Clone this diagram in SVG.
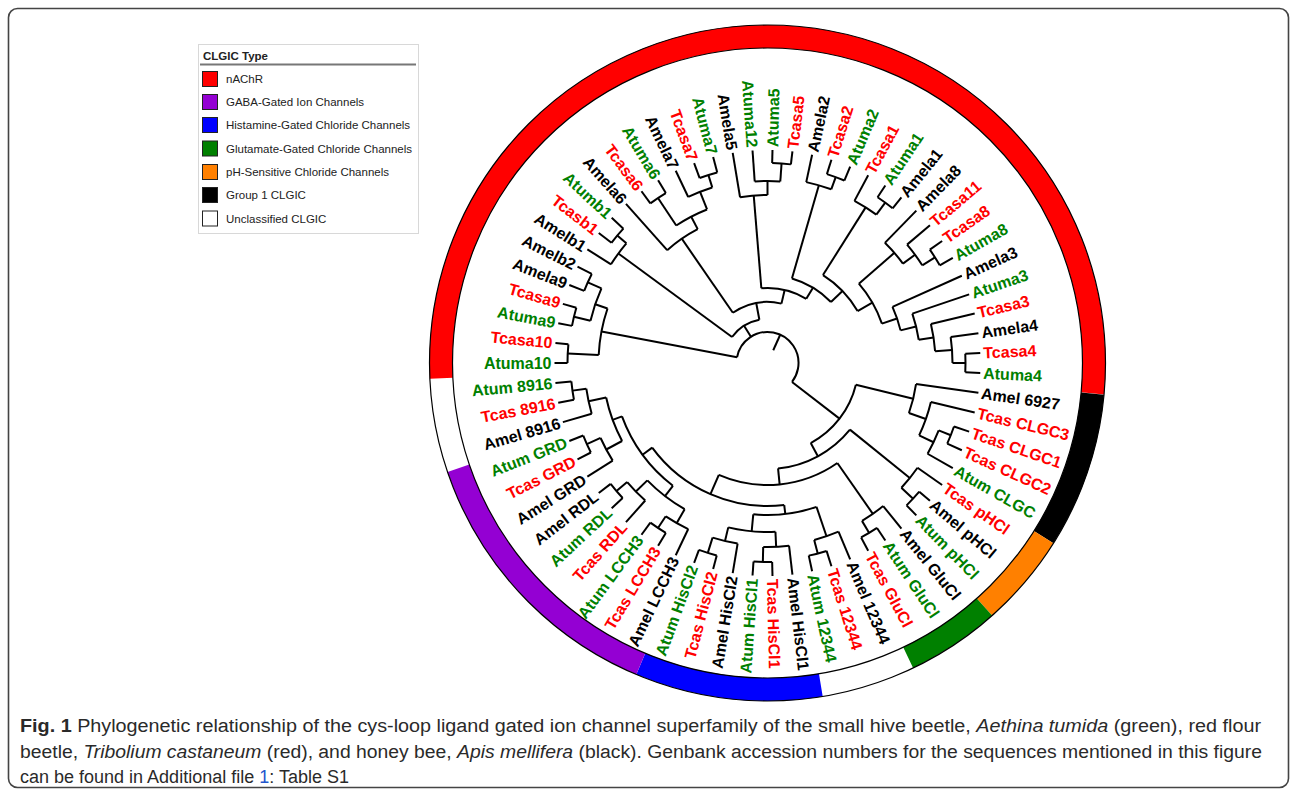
<svg xmlns="http://www.w3.org/2000/svg" width="1292" height="799" viewBox="0 0 1292 799">
<style>
.tl{fill:none;stroke:#000;stroke-width:2}
.lab{font-family:"Liberation Sans",Arial,sans-serif;font-size:16px;font-weight:bold}
.g{fill:#008000}.r{fill:#ff0000}.k{fill:#000}
.L{text-anchor:end}
.leg{font-family:"Liberation Sans",Arial,sans-serif;font-size:11.5px;fill:#222}
.sw{stroke:#222;stroke-width:1}
.cap{font-family:"Liberation Sans",Arial,sans-serif;font-size:18px;fill:#2a2a2a}
</style>
<rect x="8.5" y="8.5" width="1280" height="779" rx="9" fill="#fff" stroke="#444" stroke-width="1.6"/>

<g id="ring" transform="translate(767.5,363)" fill="none">
<circle r="326.5" stroke="#ff0000" stroke-width="23" pathLength="360" stroke-dasharray="188.06 400" transform="rotate(177.31)"/>
<circle r="326.5" stroke="#000000" stroke-width="23" pathLength="360" stroke-dasharray="26.87 400" transform="rotate(5.37)"/>
<circle r="326.5" stroke="#ff8000" stroke-width="23" pathLength="360" stroke-dasharray="16.12 400" transform="rotate(32.24)"/>
<circle r="326.5" stroke="#008000" stroke-width="23" pathLength="360" stroke-dasharray="16.12 400" transform="rotate(48.36)"/>
<circle r="326.5" stroke="#0000ff" stroke-width="23" pathLength="360" stroke-dasharray="32.24 400" transform="rotate(80.60)"/>
<circle r="326.5" stroke="#9400d3" stroke-width="23" pathLength="360" stroke-dasharray="48.35 400" transform="rotate(112.84)"/>
<circle r="315" stroke="#000" stroke-width="1.2"/>
<circle r="338" stroke="#000" stroke-width="1.2"/>
</g>

<g id="connectors" class="tl" transform="translate(767.5,363)">
<circle r="31" pathLength="360" stroke-dasharray="206.95 400" transform="rotate(190.75)"/>
<line x1="14" x2="31" transform="rotate(294.2)"/>
<line x1="31" x2="169" transform="rotate(190.75)"/>
<circle r="169" pathLength="360" stroke-dasharray="16.12 400" transform="rotate(182.69)"/>
<line x1="169" x2="200" transform="rotate(182.69)"/>
<circle r="200" pathLength="360" stroke-dasharray="5.37 400" transform="rotate(180)"/>
<line x1="169" x2="182" transform="rotate(198.81)"/>
<circle r="182" pathLength="360" stroke-dasharray="10.74 400" transform="rotate(193.44)"/>
<line x1="182" x2="199" transform="rotate(193.44)"/>
<circle r="199" pathLength="360" stroke-dasharray="5.37 400" transform="rotate(190.75)"/>
<line x1="182" x2="197" transform="rotate(204.18)"/>
<circle r="197" pathLength="360" stroke-dasharray="5.38 400" transform="rotate(201.49)"/>
<line x1="31" x2="44" transform="rotate(237.8)"/>
<circle r="44" pathLength="360" stroke-dasharray="43.05 400" transform="rotate(216.27)"/>
<line x1="44" x2="185" transform="rotate(216.27)"/>
<circle r="185" pathLength="360" stroke-dasharray="8.06 400" transform="rotate(212.24)"/>
<line x1="185" x2="197" transform="rotate(220.30)"/>
<circle r="197" pathLength="360" stroke-dasharray="5.38 400" transform="rotate(217.61)"/>
<line x1="44" x2="61" transform="rotate(259.32)"/>
<circle r="61" pathLength="360" stroke-dasharray="47.81 400" transform="rotate(235.41)"/>
<line x1="61" x2="151" transform="rotate(235.41)"/>
<circle r="151" pathLength="360" stroke-dasharray="14.11 400" transform="rotate(228.36)"/>
<line x1="151" x2="165" transform="rotate(242.47)"/>
<circle r="165" pathLength="360" stroke-dasharray="12.09 400" transform="rotate(236.42)"/>
<line x1="165" x2="198" transform="rotate(236.42)"/>
<circle r="198" pathLength="360" stroke-dasharray="5.37 400" transform="rotate(233.73)"/>
<line x1="165" x2="184" transform="rotate(248.51)"/>
<circle r="184" pathLength="360" stroke-dasharray="8.06 400" transform="rotate(244.48)"/>
<line x1="184" x2="197" transform="rotate(252.54)"/>
<circle r="197" pathLength="360" stroke-dasharray="5.37 400" transform="rotate(249.85)"/>
<line x1="61" x2="75" transform="rotate(283.22)"/>
<circle r="75" pathLength="360" stroke-dasharray="35.83 400" transform="rotate(265.30)"/>
<line x1="75" x2="168" transform="rotate(265.30)"/>
<circle r="168" pathLength="360" stroke-dasharray="9.40 400" transform="rotate(260.60)"/>
<line x1="168" x2="182" transform="rotate(270)"/>
<circle r="182" pathLength="360" stroke-dasharray="8.06 400" transform="rotate(265.97)"/>
<line x1="182" x2="200" transform="rotate(274.03)"/>
<circle r="200" pathLength="360" stroke-dasharray="5.38 400" transform="rotate(271.34)"/>
<line x1="75" x2="88" transform="rotate(301.13)"/>
<circle r="88" pathLength="360" stroke-dasharray="30.02 400" transform="rotate(286.12)"/>
<line x1="88" x2="185" transform="rotate(286.12)"/>
<circle r="185" pathLength="360" stroke-dasharray="8.06 400" transform="rotate(282.09)"/>
<line x1="185" x2="198" transform="rotate(290.15)"/>
<circle r="198" pathLength="360" stroke-dasharray="5.38 400" transform="rotate(287.46)"/>
<line x1="88" x2="104" transform="rotate(316.14)"/>
<circle r="104" pathLength="360" stroke-dasharray="27.79 400" transform="rotate(302.24)"/>
<line x1="104" x2="184" transform="rotate(302.24)"/>
<circle r="184" pathLength="360" stroke-dasharray="8.06 400" transform="rotate(298.21)"/>
<line x1="184" x2="199" transform="rotate(306.27)"/>
<circle r="199" pathLength="360" stroke-dasharray="5.38 400" transform="rotate(303.58)"/>
<line x1="104" x2="121" transform="rotate(330.03)"/>
<circle r="121" pathLength="360" stroke-dasharray="22.00 400" transform="rotate(319.03)"/>
<line x1="121" x2="168" transform="rotate(319.03)"/>
<circle r="168" pathLength="360" stroke-dasharray="9.40 400" transform="rotate(314.33)"/>
<line x1="168" x2="183" transform="rotate(323.73)"/>
<circle r="183" pathLength="360" stroke-dasharray="8.06 400" transform="rotate(319.70)"/>
<line x1="183" x2="198" transform="rotate(327.76)"/>
<circle r="198" pathLength="360" stroke-dasharray="5.38 400" transform="rotate(325.07)"/>
<line x1="121" x2="137" transform="rotate(341.03)"/>
<circle r="137" pathLength="360" stroke-dasharray="10.41 400" transform="rotate(335.82)"/>
<line x1="137" x2="153" transform="rotate(346.23)"/>
<circle r="153" pathLength="360" stroke-dasharray="10.08 400" transform="rotate(341.19)"/>
<line x1="153" x2="168" transform="rotate(351.27)"/>
<circle r="168" pathLength="360" stroke-dasharray="9.40 400" transform="rotate(346.57)"/>
<line x1="168" x2="185" transform="rotate(355.97)"/>
<circle r="185" pathLength="360" stroke-dasharray="8.06 400" transform="rotate(351.94)"/>
<line x1="185" x2="198" transform="rotate(360)"/>
<circle r="198" pathLength="360" stroke-dasharray="5.38 400" transform="rotate(357.31)"/>
<line x1="31" x2="91" transform="rotate(37.70)"/>
<circle r="91" pathLength="360" stroke-dasharray="47.86 400" transform="rotate(13.77)"/>
<line x1="91" x2="150" transform="rotate(13.77)"/>
<circle r="150" pathLength="360" stroke-dasharray="11.42 400" transform="rotate(8.06)"/>
<line x1="150" x2="168" transform="rotate(19.48)"/>
<circle r="168" pathLength="360" stroke-dasharray="12.09 400" transform="rotate(13.43)"/>
<line x1="168" x2="184" transform="rotate(25.52)"/>
<circle r="184" pathLength="360" stroke-dasharray="8.05 400" transform="rotate(21.50)"/>
<line x1="184" x2="197" transform="rotate(21.50)"/>
<circle r="197" pathLength="360" stroke-dasharray="5.37 400" transform="rotate(18.81)"/>
<line x1="91" x2="106" transform="rotate(61.63)"/>
<circle r="106" pathLength="360" stroke-dasharray="45.33 400" transform="rotate(38.96)"/>
<line x1="106" x2="183" transform="rotate(38.96)"/>
<circle r="183" pathLength="360" stroke-dasharray="8.06 400" transform="rotate(34.93)"/>
<line x1="183" x2="199" transform="rotate(42.99)"/>
<circle r="199" pathLength="360" stroke-dasharray="5.37 400" transform="rotate(40.30)"/>
<line x1="106" x2="122" transform="rotate(84.29)"/>
<circle r="122" pathLength="360" stroke-dasharray="58.44 400" transform="rotate(55.07)"/>
<line x1="122" x2="184" transform="rotate(55.07)"/>
<circle r="184" pathLength="360" stroke-dasharray="8.06 400" transform="rotate(51.04)"/>
<line x1="184" x2="198" transform="rotate(59.10)"/>
<circle r="198" pathLength="360" stroke-dasharray="5.37 400" transform="rotate(56.42)"/>
<line x1="122" x2="143" transform="rotate(113.51)"/>
<circle r="143" pathLength="360" stroke-dasharray="60.45 400" transform="rotate(83.28)"/>
<line x1="143" x2="152" transform="rotate(83.28)"/>
<circle r="152" pathLength="360" stroke-dasharray="24.18 400" transform="rotate(71.19)"/>
<line x1="152" x2="183" transform="rotate(71.19)"/>
<circle r="183" pathLength="360" stroke-dasharray="8.06 400" transform="rotate(67.16)"/>
<line x1="183" x2="197" transform="rotate(75.22)"/>
<circle r="197" pathLength="360" stroke-dasharray="5.37 400" transform="rotate(72.54)"/>
<line x1="152" x2="169" transform="rotate(95.37)"/>
<circle r="169" pathLength="360" stroke-dasharray="16.12 400" transform="rotate(87.31)"/>
<line x1="169" x2="184" transform="rotate(87.31)"/>
<circle r="184" pathLength="360" stroke-dasharray="8.06 400" transform="rotate(83.28)"/>
<line x1="184" x2="199" transform="rotate(91.34)"/>
<circle r="199" pathLength="360" stroke-dasharray="5.37 400" transform="rotate(88.66)"/>
<line x1="169" x2="183" transform="rotate(103.43)"/>
<circle r="183" pathLength="360" stroke-dasharray="8.06 400" transform="rotate(99.40)"/>
<line x1="183" x2="199" transform="rotate(107.46)"/>
<circle r="199" pathLength="360" stroke-dasharray="5.37 400" transform="rotate(104.78)"/>
<line x1="143" x2="155" transform="rotate(143.73)"/>
<circle r="155" pathLength="360" stroke-dasharray="32.24 400" transform="rotate(127.61)"/>
<line x1="155" x2="168" transform="rotate(127.61)"/>
<circle r="168" pathLength="360" stroke-dasharray="16.12 400" transform="rotate(119.55)"/>
<line x1="168" x2="184" transform="rotate(119.55)"/>
<circle r="184" pathLength="360" stroke-dasharray="8.06 400" transform="rotate(115.52)"/>
<line x1="184" x2="198" transform="rotate(123.58)"/>
<circle r="198" pathLength="360" stroke-dasharray="5.37 400" transform="rotate(120.90)"/>
<line x1="168" x2="184" transform="rotate(135.67)"/>
<circle r="184" pathLength="360" stroke-dasharray="8.06 400" transform="rotate(131.64)"/>
<line x1="184" x2="198" transform="rotate(139.70)"/>
<circle r="198" pathLength="360" stroke-dasharray="5.38 400" transform="rotate(137.01)"/>
<line x1="155" x2="165" transform="rotate(159.85)"/>
<circle r="165" pathLength="360" stroke-dasharray="16.12 400" transform="rotate(151.79)"/>
<line x1="165" x2="183" transform="rotate(151.79)"/>
<circle r="183" pathLength="360" stroke-dasharray="8.06 400" transform="rotate(147.76)"/>
<line x1="183" x2="198" transform="rotate(155.82)"/>
<circle r="198" pathLength="360" stroke-dasharray="5.38 400" transform="rotate(153.13)"/>
<line x1="165" x2="183" transform="rotate(167.91)"/>
<circle r="183" pathLength="360" stroke-dasharray="8.06 400" transform="rotate(163.88)"/>
<line x1="183" x2="197" transform="rotate(171.94)"/>
<circle r="197" pathLength="360" stroke-dasharray="5.38 400" transform="rotate(169.25)"/>
<line x1="200" x2="213" transform="rotate(180)"/>
<line x1="200" x2="213" transform="rotate(185.37)"/>
<line x1="199" x2="213" transform="rotate(190.75)"/>
<line x1="199" x2="213" transform="rotate(196.12)"/>
<line x1="197" x2="213" transform="rotate(201.49)"/>
<line x1="197" x2="213" transform="rotate(206.87)"/>
<line x1="185" x2="213" transform="rotate(212.24)"/>
<line x1="197" x2="213" transform="rotate(217.61)"/>
<line x1="197" x2="213" transform="rotate(222.99)"/>
<line x1="151" x2="213" transform="rotate(228.36)"/>
<line x1="198" x2="213" transform="rotate(233.73)"/>
<line x1="198" x2="213" transform="rotate(239.10)"/>
<line x1="184" x2="213" transform="rotate(244.48)"/>
<line x1="197" x2="213" transform="rotate(249.85)"/>
<line x1="197" x2="213" transform="rotate(255.22)"/>
<line x1="168" x2="213" transform="rotate(260.60)"/>
<line x1="182" x2="213" transform="rotate(265.97)"/>
<line x1="200" x2="213" transform="rotate(271.34)"/>
<line x1="200" x2="213" transform="rotate(276.72)"/>
<line x1="185" x2="213" transform="rotate(282.09)"/>
<line x1="198" x2="213" transform="rotate(287.46)"/>
<line x1="198" x2="213" transform="rotate(292.84)"/>
<line x1="184" x2="213" transform="rotate(298.21)"/>
<line x1="199" x2="213" transform="rotate(303.58)"/>
<line x1="199" x2="213" transform="rotate(308.96)"/>
<line x1="168" x2="213" transform="rotate(314.33)"/>
<line x1="183" x2="213" transform="rotate(319.70)"/>
<line x1="198" x2="213" transform="rotate(325.07)"/>
<line x1="198" x2="213" transform="rotate(330.45)"/>
<line x1="137" x2="213" transform="rotate(335.82)"/>
<line x1="153" x2="213" transform="rotate(341.19)"/>
<line x1="168" x2="213" transform="rotate(346.57)"/>
<line x1="185" x2="213" transform="rotate(351.94)"/>
<line x1="198" x2="213" transform="rotate(357.31)"/>
<line x1="198" x2="213" transform="rotate(362.69)"/>
<line x1="150" x2="213" transform="rotate(8.06)"/>
<line x1="168" x2="213" transform="rotate(13.43)"/>
<line x1="197" x2="213" transform="rotate(18.81)"/>
<line x1="197" x2="213" transform="rotate(24.18)"/>
<line x1="184" x2="213" transform="rotate(29.55)"/>
<line x1="183" x2="213" transform="rotate(34.93)"/>
<line x1="199" x2="213" transform="rotate(40.30)"/>
<line x1="199" x2="213" transform="rotate(45.67)"/>
<line x1="184" x2="213" transform="rotate(51.04)"/>
<line x1="198" x2="213" transform="rotate(56.42)"/>
<line x1="198" x2="213" transform="rotate(61.79)"/>
<line x1="183" x2="213" transform="rotate(67.16)"/>
<line x1="197" x2="213" transform="rotate(72.54)"/>
<line x1="197" x2="213" transform="rotate(77.91)"/>
<line x1="184" x2="213" transform="rotate(83.28)"/>
<line x1="199" x2="213" transform="rotate(88.66)"/>
<line x1="199" x2="213" transform="rotate(94.03)"/>
<line x1="183" x2="213" transform="rotate(99.40)"/>
<line x1="199" x2="213" transform="rotate(104.78)"/>
<line x1="199" x2="213" transform="rotate(110.15)"/>
<line x1="184" x2="213" transform="rotate(115.52)"/>
<line x1="198" x2="213" transform="rotate(120.90)"/>
<line x1="198" x2="213" transform="rotate(126.27)"/>
<line x1="184" x2="213" transform="rotate(131.64)"/>
<line x1="198" x2="213" transform="rotate(137.01)"/>
<line x1="198" x2="213" transform="rotate(142.39)"/>
<line x1="183" x2="213" transform="rotate(147.76)"/>
<line x1="198" x2="213" transform="rotate(153.13)"/>
<line x1="198" x2="213" transform="rotate(158.51)"/>
<line x1="183" x2="213" transform="rotate(163.88)"/>
<line x1="197" x2="213" transform="rotate(169.25)"/>
<line x1="197" x2="213" transform="rotate(174.63)"/>
</g>

<g id="leaves" class="lab" transform="translate(767.5,363)">
<g id="n-Atuma10" transform="rotate(180)"><text class="g L" x="-216" dy="0.35em" transform="rotate(180)">Atuma10</text></g>
<g id="n-Tcasa10" transform="rotate(185.37)"><text class="r L" x="-216" dy="0.35em" transform="rotate(180)">Tcasa10</text></g>
<g id="n-Atuma9" transform="rotate(190.75)"><text class="g L" x="-216" dy="0.35em" transform="rotate(180)">Atuma9</text></g>
<g id="n-Tcasa9" transform="rotate(196.12)"><text class="r L" x="-216" dy="0.35em" transform="rotate(180)">Tcasa9</text></g>
<g id="n-Amela9" transform="rotate(201.49)"><text class="k L" x="-216" dy="0.35em" transform="rotate(180)">Amela9</text></g>
<g id="n-Amelb2" transform="rotate(206.87)"><text class="k L" x="-216" dy="0.35em" transform="rotate(180)">Amelb2</text></g>
<g id="n-Amelb1" transform="rotate(212.24)"><text class="k L" x="-216" dy="0.35em" transform="rotate(180)">Amelb1</text></g>
<g id="n-Tcasb1" transform="rotate(217.61)"><text class="r L" x="-216" dy="0.35em" transform="rotate(180)">Tcasb1</text></g>
<g id="n-Atumb1" transform="rotate(222.99)"><text class="g L" x="-216" dy="0.35em" transform="rotate(180)">Atumb1</text></g>
<g id="n-Amela6" transform="rotate(228.36)"><text class="k L" x="-216" dy="0.35em" transform="rotate(180)">Amela6</text></g>
<g id="n-Tcasa6" transform="rotate(233.73)"><text class="r L" x="-216" dy="0.35em" transform="rotate(180)">Tcasa6</text></g>
<g id="n-Atuma6" transform="rotate(239.10)"><text class="g L" x="-216" dy="0.35em" transform="rotate(180)">Atuma6</text></g>
<g id="n-Amela7" transform="rotate(244.48)"><text class="k L" x="-216" dy="0.35em" transform="rotate(180)">Amela7</text></g>
<g id="n-Tcasa7" transform="rotate(249.85)"><text class="r L" x="-216" dy="0.35em" transform="rotate(180)">Tcasa7</text></g>
<g id="n-Atuma7" transform="rotate(255.22)"><text class="g L" x="-216" dy="0.35em" transform="rotate(180)">Atuma7</text></g>
<g id="n-Amela5" transform="rotate(260.60)"><text class="k L" x="-216" dy="0.35em" transform="rotate(180)">Amela5</text></g>
<g id="n-Atuma12" transform="rotate(265.97)"><text class="g L" x="-216" dy="0.35em" transform="rotate(180)">Atuma12</text></g>
<g id="n-Atuma5" transform="rotate(271.34)"><text class="g" x="216" dy="0.35em">Atuma5</text></g>
<g id="n-Tcasa5" transform="rotate(276.72)"><text class="r" x="216" dy="0.35em">Tcasa5</text></g>
<g id="n-Amela2" transform="rotate(282.09)"><text class="k" x="216" dy="0.35em">Amela2</text></g>
<g id="n-Tcasa2" transform="rotate(287.46)"><text class="r" x="216" dy="0.35em">Tcasa2</text></g>
<g id="n-Atuma2" transform="rotate(292.84)"><text class="g" x="216" dy="0.35em">Atuma2</text></g>
<g id="n-Tcasa1" transform="rotate(298.21)"><text class="r" x="216" dy="0.35em">Tcasa1</text></g>
<g id="n-Atuma1" transform="rotate(303.58)"><text class="g" x="216" dy="0.35em">Atuma1</text></g>
<g id="n-Amela1" transform="rotate(308.96)"><text class="k" x="216" dy="0.35em">Amela1</text></g>
<g id="n-Amela8" transform="rotate(314.33)"><text class="k" x="216" dy="0.35em">Amela8</text></g>
<g id="n-Tcasa11" transform="rotate(319.70)"><text class="r" x="216" dy="0.35em">Tcasa11</text></g>
<g id="n-Tcasa8" transform="rotate(325.07)"><text class="r" x="216" dy="0.35em">Tcasa8</text></g>
<g id="n-Atuma8" transform="rotate(330.45)"><text class="g" x="216" dy="0.35em">Atuma8</text></g>
<g id="n-Amela3" transform="rotate(335.82)"><text class="k" x="216" dy="0.35em">Amela3</text></g>
<g id="n-Atuma3" transform="rotate(341.19)"><text class="g" x="216" dy="0.35em">Atuma3</text></g>
<g id="n-Tcasa3" transform="rotate(346.57)"><text class="r" x="216" dy="0.35em">Tcasa3</text></g>
<g id="n-Amela4" transform="rotate(351.94)"><text class="k" x="216" dy="0.35em">Amela4</text></g>
<g id="n-Tcasa4" transform="rotate(357.31)"><text class="r" x="216" dy="0.35em">Tcasa4</text></g>
<g id="n-Atuma4" transform="rotate(362.69)"><text class="g" x="216" dy="0.35em">Atuma4</text></g>
<g id="n-Amel6927" transform="rotate(8.06)"><text class="k" x="216" dy="0.35em">Amel 6927</text></g>
<g id="n-TcasCLGC3" transform="rotate(13.43)"><text class="r" x="216" dy="0.35em">Tcas CLGC3</text></g>
<g id="n-TcasCLGC1" transform="rotate(18.81)"><text class="r" x="216" dy="0.35em">Tcas CLGC1</text></g>
<g id="n-TcasCLGC2" transform="rotate(24.18)"><text class="r" x="216" dy="0.35em">Tcas CLGC2</text></g>
<g id="n-AtumCLGC" transform="rotate(29.55)"><text class="g" x="216" dy="0.35em">Atum CLGC</text></g>
<g id="n-TcaspHCl" transform="rotate(34.93)"><text class="r" x="216" dy="0.35em">Tcas pHCl</text></g>
<g id="n-AmelpHCl" transform="rotate(40.30)"><text class="k" x="216" dy="0.35em">Amel pHCl</text></g>
<g id="n-AtumpHCl" transform="rotate(45.67)"><text class="g" x="216" dy="0.35em">Atum pHCl</text></g>
<g id="n-AmelGluCl" transform="rotate(51.04)"><text class="k" x="216" dy="0.35em">Amel GluCl</text></g>
<g id="n-AtumGluCl" transform="rotate(56.42)"><text class="g" x="216" dy="0.35em">Atum GluCl</text></g>
<g id="n-TcasGluCl" transform="rotate(61.79)"><text class="r" x="216" dy="0.35em">Tcas GluCl</text></g>
<g id="n-Amel12344" transform="rotate(67.16)"><text class="k" x="216" dy="0.35em">Amel 12344</text></g>
<g id="n-Tcas12344" transform="rotate(72.54)"><text class="r" x="216" dy="0.35em">Tcas 12344</text></g>
<g id="n-Atum12344" transform="rotate(77.91)"><text class="g" x="216" dy="0.35em">Atum 12344</text></g>
<g id="n-AmelHisCl1" transform="rotate(83.28)"><text class="k" x="216" dy="0.35em">Amel HisCl1</text></g>
<g id="n-TcasHisCl1" transform="rotate(88.66)"><text class="r" x="216" dy="0.35em">Tcas HisCl1</text></g>
<g id="n-AtumHisCl1" transform="rotate(94.03)"><text class="g L" x="-216" dy="0.35em" transform="rotate(180)">Atum HisCl1</text></g>
<g id="n-AmelHisCl2" transform="rotate(99.40)"><text class="k L" x="-216" dy="0.35em" transform="rotate(180)">Amel HisCl2</text></g>
<g id="n-TcasHisCl2" transform="rotate(104.78)"><text class="r L" x="-216" dy="0.35em" transform="rotate(180)">Tcas HisCl2</text></g>
<g id="n-AtumHisCl2" transform="rotate(110.15)"><text class="g L" x="-216" dy="0.35em" transform="rotate(180)">Atum HisCl2</text></g>
<g id="n-AmelLCCH3" transform="rotate(115.52)"><text class="k L" x="-216" dy="0.35em" transform="rotate(180)">Amel LCCH3</text></g>
<g id="n-TcasLCCH3" transform="rotate(120.90)"><text class="r L" x="-216" dy="0.35em" transform="rotate(180)">Tcas LCCH3</text></g>
<g id="n-AtumLCCH3" transform="rotate(126.27)"><text class="g L" x="-216" dy="0.35em" transform="rotate(180)">Atum LCCH3</text></g>
<g id="n-TcasRDL" transform="rotate(131.64)"><text class="r L" x="-216" dy="0.35em" transform="rotate(180)">Tcas RDL</text></g>
<g id="n-AtumRDL" transform="rotate(137.01)"><text class="g L" x="-216" dy="0.35em" transform="rotate(180)">Atum RDL</text></g>
<g id="n-AmelRDL" transform="rotate(142.39)"><text class="k L" x="-216" dy="0.35em" transform="rotate(180)">Amel RDL</text></g>
<g id="n-AmelGRD" transform="rotate(147.76)"><text class="k L" x="-216" dy="0.35em" transform="rotate(180)">Amel GRD</text></g>
<g id="n-TcasGRD" transform="rotate(153.13)"><text class="r L" x="-216" dy="0.35em" transform="rotate(180)">Tcas GRD</text></g>
<g id="n-AtumGRD" transform="rotate(158.51)"><text class="g L" x="-216" dy="0.35em" transform="rotate(180)">Atum GRD</text></g>
<g id="n-Amel8916" transform="rotate(163.88)"><text class="k L" x="-216" dy="0.35em" transform="rotate(180)">Amel 8916</text></g>
<g id="n-Tcas8916" transform="rotate(169.25)"><text class="r L" x="-216" dy="0.35em" transform="rotate(180)">Tcas 8916</text></g>
<g id="n-Atum8916" transform="rotate(174.63)"><text class="g L" x="-216" dy="0.35em" transform="rotate(180)">Atum 8916</text></g>
</g>

<g id="legend">
<rect x="198.5" y="44.5" width="220" height="189" fill="#fff" stroke="#d8d8d8" stroke-width="1"/>
<text x="203" y="60" class="leg" font-weight="bold">CLGIC Type</text>
<line x1="200" y1="64.5" x2="416" y2="64.5" stroke="#777" stroke-width="2"/>
<rect class="sw" x="202.5" y="71.5" width="15" height="15" fill="#ff0000"/>
<text x="226" y="83" class="leg">nAChR</text>
<rect class="sw" x="202.5" y="94.5" width="15" height="15" fill="#9400d3"/>
<text x="226" y="106" class="leg">GABA-Gated Ion Channels</text>
<rect class="sw" x="202.5" y="117.5" width="15" height="15" fill="#0000ff"/>
<text x="226" y="129" class="leg">Histamine-Gated Chloride Channels</text>
<rect class="sw" x="202.5" y="141" width="15" height="15" fill="#008000"/>
<text x="226" y="152.5" class="leg">Glutamate-Gated Chloride Channels</text>
<rect class="sw" x="202.5" y="164.5" width="15" height="15" fill="#ff8000"/>
<text x="226" y="176" class="leg">pH-Sensitive Chloride Channels</text>
<rect class="sw" x="202.5" y="187.5" width="15" height="15" fill="#000000"/>
<text x="226" y="199" class="leg">Group 1 CLGIC</text>
<rect class="sw" x="202.5" y="211" width="15" height="15" fill="#ffffff"/>
<text x="226" y="222.5" class="leg">Unclassified CLGIC</text>
</g>

<g id="caption" class="cap">
<text x="20" y="732" textLength="1241" lengthAdjust="spacingAndGlyphs"><tspan font-weight="bold">Fig. 1</tspan> Phylogenetic relationship of the cys-loop ligand gated ion channel superfamily of the small hive beetle, <tspan font-style="italic">Aethina tumida</tspan> (green), red flour</text>
<text x="20" y="758" textLength="1242" lengthAdjust="spacingAndGlyphs">beetle, <tspan font-style="italic">Tribolium castaneum</tspan> (red), and honey bee, <tspan font-style="italic">Apis mellifera</tspan> (black). Genbank accession numbers for the sequences mentioned in this figure</text>
<text x="20" y="783">can be found in Additional file <tspan fill="#2255cc">1</tspan>: Table S1</text>
</g>
</svg>
